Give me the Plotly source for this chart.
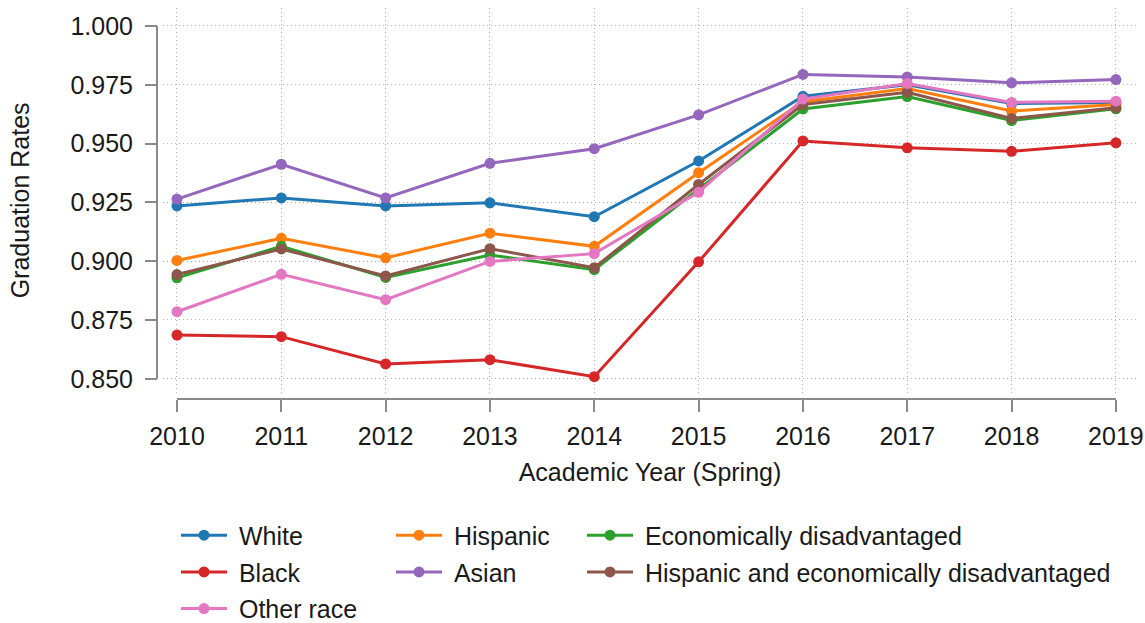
import plotly.graph_objects as go

years = [2010, 2011, 2012, 2013, 2014, 2015, 2016, 2017, 2018, 2019]
white = [0.9235, 0.9269, 0.9235, 0.9248, 0.9189, 0.9426, 0.9701, 0.9750, 0.9670, 0.9675]
hispanic = [0.9003, 0.9097, 0.9014, 0.9119, 0.9063, 0.9376, 0.9678, 0.9734, 0.9638, 0.9666]
econ = [0.8929, 0.9063, 0.8931, 0.9026, 0.8964, 0.9305, 0.9647, 0.9700, 0.9598, 0.9648]
black = [0.8686, 0.8679, 0.8563, 0.8581, 0.8509, 0.8997, 0.9511, 0.9482, 0.9467, 0.9503]
asian = [0.9264, 0.9412, 0.9269, 0.9416, 0.9478, 0.9622, 0.9794, 0.9783, 0.9758, 0.9772]
hisp_econ = [0.8943, 0.9052, 0.8937, 0.9053, 0.8972, 0.9326, 0.9666, 0.9718, 0.9607, 0.9652]
other = [0.8785, 0.8944, 0.8836, 0.8999, 0.9032, 0.9293, 0.9689, 0.9755, 0.9675, 0.9680]

y_ticks = [0.850, 0.875, 0.900, 0.925, 0.950, 0.975, 1.000]
y_tick_labels = ["0.850", "0.875", "0.900", "0.925", "0.950", "0.975", "1.000"]

series = [
    ("White", white, "#1f77b4", "legend"),
    ("Hispanic", hispanic, "#ff7f0e", "legend2"),
    ("Economically disadvantaged", econ, "#2ca02c", "legend3"),
    ("Black", black, "#d62728", "legend"),
    ("Asian", asian, "#9467bd", "legend2"),
    ("Hispanic and economically disadvantaged", hisp_econ, "#8c564b", "legend3"),
    ("Other race", other, "#e377c2", "legend"),
]

FONT = "Liberation Sans, Arial, sans-serif"
FS = 25
AXC = "#8a8a8a"
TXT = "#1a1a1a"
PAD = "\u00a0"  # small gap between legend handle and label

fig = go.Figure()
for name, vals, color, lg in series:
    fig.add_trace(go.Scatter(
        x=years, y=vals, name=PAD + name, mode="lines+markers",
        line=dict(color=color, width=3),
        marker=dict(color=color, size=11, line=dict(width=0)),
        legend=lg, legendgroup=name,
    ))

W, H = 1145, 623
ml, mr, mt, mb = 157, 8, 7.5, 223.7
pw = W - ml - mr
ph = H - mt - mb

legend_common = dict(
    orientation="v", xanchor="left", yanchor="top",
    font=dict(family=FONT, size=FS, color=TXT),
    bgcolor="rgba(0,0,0,0)", borderwidth=0, itemwidth=46,
    tracegroupgap=1.2,
)
ly = (ph - (513 - mt)) / ph

fig.update_layout(
    width=W, height=H,
    margin=dict(l=ml, r=mr, t=mt, b=mb, autoexpand=False),
    paper_bgcolor="white", plot_bgcolor="white",
    font=dict(family=FONT, size=FS, color=TXT),
    legend=dict(x=(176 - ml) / pw, y=ly, **legend_common),
    legend2=dict(x=(391 - ml) / pw, y=ly, **legend_common),
    legend3=dict(x=(582 - ml) / pw, y=ly, **legend_common),
    xaxis=dict(
        domain=[(163 - ml) / pw, 1],
        range=[2009.866, 2019.202],
        anchor="free", position=0,
        tickmode="array", tickvals=years, ticktext=[str(y) for y in years],
        ticks="outside", ticklen=12, tickwidth=2, tickcolor=AXC,
        ticklabelstandoff=3,
        showline=False, zeroline=False,
        showgrid=True, gridcolor="#b5b5b5", gridwidth=1, griddash="1px,3px",
        tickfont=dict(family=FONT, size=FS, color=TXT),
        title=dict(text="Academic Year (Spring)", standoff=14,
                   font=dict(family=FONT, size=FS, color=TXT)),
    ),
    yaxis=dict(
        domain=[(399.3 - 393) / ph, 1],
        range=[0.84407, 1.00763],
        anchor="free", position=0,
        tickmode="array", tickvals=y_ticks, ticktext=y_tick_labels,
        ticks="outside", ticklen=12, tickwidth=2, tickcolor=AXC,
        ticklabelstandoff=7,
        showline=False, zeroline=False,
        showgrid=True, gridcolor="#b5b5b5", gridwidth=1, griddash="1px,3px",
        tickfont=dict(family=FONT, size=FS, color=TXT),
        title=dict(text="Graduation Rates", standoff=32,
                   font=dict(family=FONT, size=FS, color=TXT)),
    ),
)

# offset spines spanning only the tick range
fig.add_shape(type="line", xref="x", yref="paper", x0=years[0], x1=years[-1], y0=0, y1=0,
              line=dict(color=AXC, width=2), layer="above")
fig.add_shape(type="line", xref="paper", yref="y", x0=0, x1=0, y0=y_ticks[0], y1=y_ticks[-1],
              line=dict(color=AXC, width=2), layer="above")

fig.write_html("out.html", config={"displayModeBar": False},
               post_script="document.body.style.margin='0';")
